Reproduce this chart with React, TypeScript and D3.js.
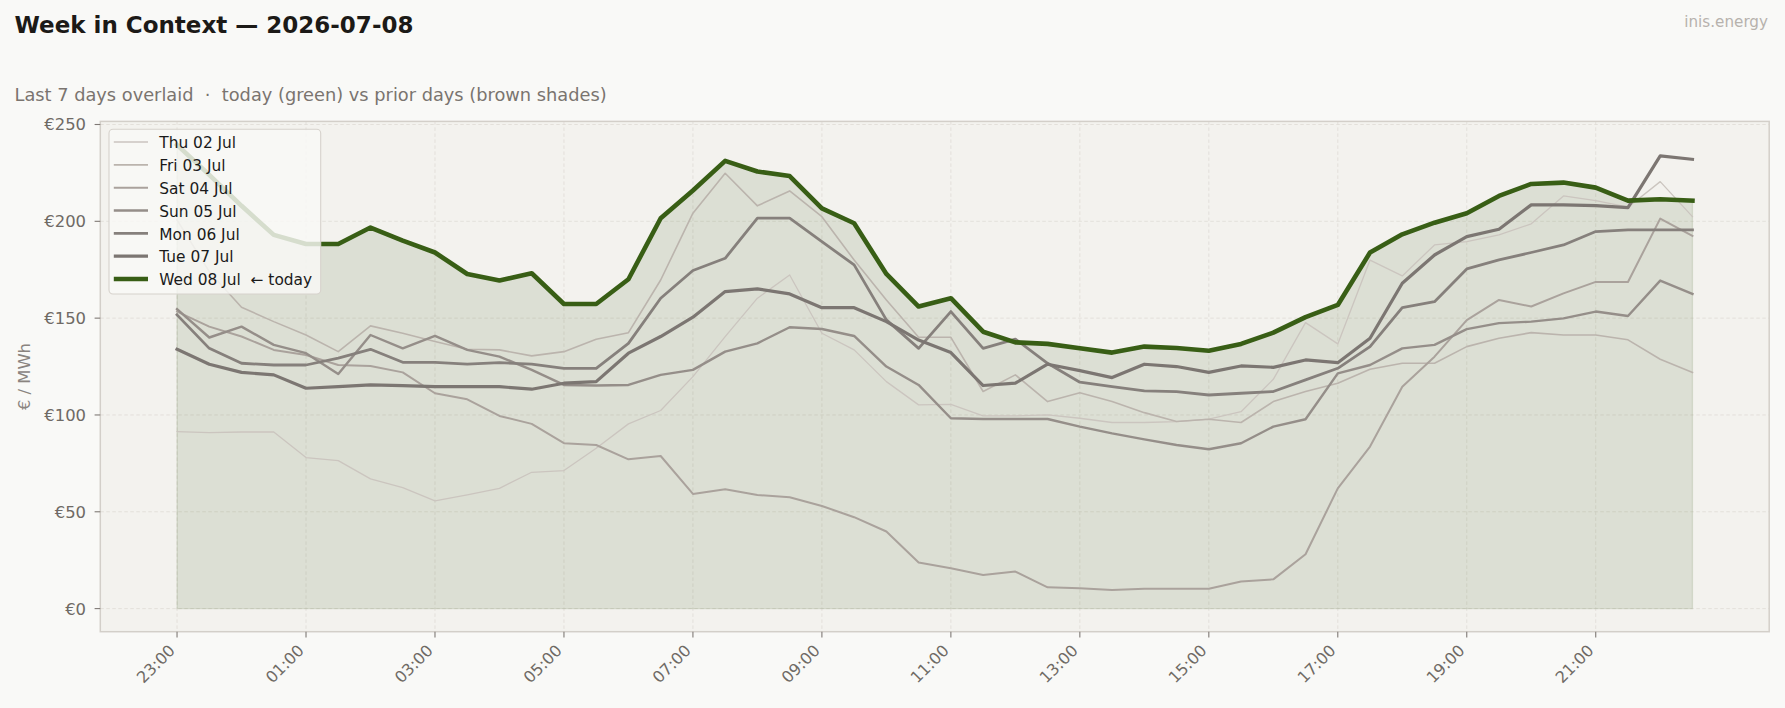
import React from "react";
import * as d3 from "d3";

const WIDTH = 1785;
const HEIGHT = 708;

// Half-hourly day-ahead prices (EUR/MWh), trading day 23:00 -> 22:30
const dayLabels = [
  "Thu 02 Jul",
  "Fri 03 Jul",
  "Sat 04 Jul",
  "Sun 05 Jul",
  "Mon 06 Jul",
  "Tue 07 Jul",
  "Wed 08 Jul",
];

const thu02 = [
  91.4, 90.9, 91.2, 91.2, 78, 76.4, 67, 62.5,
  55.6, 58.7, 62.1, 70.4, 71.3, 82.8, 95.4, 102.3,
  119.8, 140.5, 160.3, 172.3, 142.2, 133.6, 117.2, 105.2,
  105.5, 99.5, 99.5, 100, 98.3, 96.1, 96.1, 96.6,
  97.8, 101.7, 118.4, 147.7, 136.7, 180, 171.8, 187.8,
  189.5, 193, 198.7, 213.1, 210.7, 207.3, 220.5, 202.4,
];

const fri03 = [
  200.7, 174, 155.6, 148.2, 141.3, 132.7, 146, 142.2,
  137.9, 133.9, 133.6, 130.5, 132.7, 139.1, 142.5, 169.7,
  204.2, 224.8, 208, 215.7, 202.4, 180, 159.4, 140.1,
  140.1, 112.1, 120.7, 106.9, 111.5, 106.9, 101.2, 96.6,
  97.8, 96.1, 106.9, 112.1, 116.4, 123.6, 126.7, 126.7,
  135.3, 139.6, 142.5, 141.3, 141.3, 138.8, 128.8, 121.9,
];

const sat04 = [
  153.4, 145.6, 140.5, 133.6, 131, 125.8, 125.3, 122,
  111.2, 108.1, 99.5, 95.4, 85.4, 84.5, 77.1, 78.8,
  59.2, 61.6, 58.7, 57.5, 53, 47.2, 39.8, 23.8,
  20.8, 17.4, 19.1, 11, 10.5, 9.6, 10.2, 10.2,
  10.2, 14, 15.1, 28.1, 62.1, 83.7, 114.6, 130.1,
  149, 159.4, 156, 162.8, 168.7, 168.7, 201.4, 192.5,
];

const sun05 = [
  154.6, 140, 145.6, 136.2, 131.9, 121.2, 141.3, 134.4,
  140.8, 133.6, 130.1, 123.3, 115.5, 115.2, 115.5, 120.7,
  123.3, 132.7, 137, 145.3, 144.4, 140.8, 125, 115.5,
  98.3, 97.9, 97.9, 97.9, 94, 90.5, 87.4, 84.5,
  82.3, 85.4, 94, 97.8, 121.5, 125.8, 134.4, 136.2,
  144.3, 147.4, 148.2, 149.9, 153.4, 151.1, 169.4, 162.5,
];

const mon06 = [
  151.7, 134.4, 126.7, 125.8, 125.8, 129.3, 133.9, 127.2,
  127.2, 126.2, 127, 126.2, 124.1, 124.1, 137, 160.3,
  174.6, 180.9, 201.6, 201.6, 189.5, 177.5, 149.1, 134.4,
  153.4, 134.4, 139.2, 126.7, 116.9, 114.6, 112.4, 112.1,
  110.3, 111.2, 112.1, 118.1, 124.1, 135.3, 155.4, 158.5,
  175.4, 180.1, 183.9, 187.8, 194.7, 195.6, 195.6, 195.6,
];

const tue07 = [
  133.9, 126.2, 122, 120.7, 113.8, 114.6, 115.5, 115.1,
  114.6, 114.6, 114.6, 113.3, 116.4, 117.2, 131.9, 140.5,
  150.5, 163.7, 165.1, 162.5, 155.4, 155.4, 148.2, 138.7,
  132.2, 115.2, 116.4, 126.2, 122.9, 119.3, 126.2, 125,
  122, 125.3, 124.6, 128.4, 127, 139.6, 168, 182.6,
  192.1, 195.9, 208.5, 208.5, 208.1, 207.1, 233.8, 232,
];

const wed08 = [
  239.5, 224, 208, 193, 188.3, 188.3, 196.8, 190,
  183.9, 172.8, 169.4, 173.2, 157.3, 157.3, 170.1, 201.6,
  215.9, 231.2, 225.7, 223.4, 206.7, 199, 172.8, 156,
  160.3, 143, 137.5, 136.7, 134.4, 132.2, 135.3, 134.6,
  133.2, 136.7, 142.5, 150.5, 156.8, 183.9, 193.3, 199.3,
  204.2, 213.1, 219.3, 220, 217.4, 210.7, 211.4, 210.7,
];

const seriesValues = [thu02, fri03, sat04, sun05, mon06, tue07, wed08];

// x tick labels and the half-hour slot each one sits on
const xTickLabels = ["23:00", "01:00", "03:00", "05:00", "07:00", "09:00", "11:00", "13:00", "15:00", "17:00", "19:00", "21:00"];
const xTickSlots = [0, 4, 8, 12, 16, 20, 24, 28, 32, 36, 40, 44];
const yTickValues = [0, 50, 100, 150, 200, 250];

// Presentation
const FONT = "'DejaVu Sans', Verdana, sans-serif";
const PRIOR_COLORS = ["#cbc5bf", "#bbb4ad", "#aaa29c", "#958e89", "#86807c", "#7c7672"];
const PRIOR_WIDTHS = [1.3, 1.6, 2.0, 2.4, 2.8, 3.2];
const TODAY_COLOR = "#385e15";
const TODAY_WIDTH = 4.6;

const PLOT = { left: 100.3, right: 1769.2, top: 121.4, bottom: 631.7 };

export default function App() {
  const n = wed08.length;
  const x = d3.scaleLinear().domain([-2.38, n - 1 + 2.38]).range([PLOT.left, PLOT.right]);
  const y = d3.scaleLinear().domain([-11.93, 251.6]).range([PLOT.bottom, PLOT.top]);

  const line = d3
    .line<number>()
    .x((_, i) => x(i))
    .y((v) => y(v));

  const area = d3
    .area<number>()
    .x((_, i) => x(i))
    .y0(() => y(0))
    .y1((v) => y(v));

  const legendX = 109;
  const legendY = 129.3;
  const rowStep = 22.83;

  return (
    <svg
      width={WIDTH}
      height={HEIGHT}
      viewBox={`0 0 ${WIDTH} ${HEIGHT}`}
      style={{ position: "absolute", left: 0, top: 0, background: "#f9f9f7" }}
      fontFamily={FONT}
    >
      <rect x={0} y={0} width={WIDTH} height={HEIGHT} fill="#f9f9f7" />

      {/* header */}
      <text x={14.5} y={33} fontSize={23} fontWeight="bold" fill="#1c1a17">
        Week in Context — 2026-07-08
      </text>
      <text x={14.5} y={100.5} fontSize={17.8} fill="#7a746f" style={{ whiteSpace: "pre" }}>
        {"Last 7 days overlaid  ·  today (green) vs prior days (brown shades)"}
      </text>
      <text x={1768} y={27.3} fontSize={15.2} fill="#b7b2ad" textAnchor="end">
        inis.energy
      </text>

      {/* plot background */}
      <rect
        x={PLOT.left}
        y={PLOT.top}
        width={PLOT.right - PLOT.left}
        height={PLOT.bottom - PLOT.top}
        fill="#f3f2ee"
      />

      {/* grid */}
      <g stroke="#e1ded8" strokeWidth={0.9} strokeDasharray="3.5 2.5">
        {yTickValues.map((v) => (
          <line key={`gy${v}`} x1={PLOT.left} x2={PLOT.right} y1={y(v)} y2={y(v)} />
        ))}
        {xTickSlots.map((s) => (
          <line key={`gx${s}`} x1={x(s)} x2={x(s)} y1={PLOT.top} y2={PLOT.bottom} />
        ))}
      </g>

      {/* shaded band under today's curve */}
      <path
        d={area(wed08) ?? ""}
        fill={TODAY_COLOR}
        fillOpacity={0.12}
        stroke={TODAY_COLOR}
        strokeOpacity={0.12}
        strokeWidth={1.3}
      />

      {/* prior days */}
      {seriesValues.slice(0, 6).map((vals, k) => (
        <path
          key={dayLabels[k]}
          d={line(vals) ?? ""}
          fill="none"
          stroke={PRIOR_COLORS[k]}
          strokeWidth={PRIOR_WIDTHS[k]}
          strokeLinejoin="round"
          strokeLinecap="square"
        />
      ))}

      {/* today */}
      <path
        d={line(wed08) ?? ""}
        fill="none"
        stroke={TODAY_COLOR}
        strokeWidth={TODAY_WIDTH}
        strokeLinejoin="round"
        strokeLinecap="square"
      />

      {/* frame */}
      <rect
        x={PLOT.left}
        y={PLOT.top}
        width={PLOT.right - PLOT.left}
        height={PLOT.bottom - PLOT.top}
        fill="none"
        stroke="#d3cfc9"
        strokeWidth={1.5}
      />

      {/* y axis */}
      <g>
        {yTickValues.map((v) => (
          <g key={`yt${v}`}>
            <line x1={PLOT.left - 5.7} x2={PLOT.left} y1={y(v)} y2={y(v)} stroke="#7f7975" strokeWidth={1.1} />
            <text x={86} y={y(v)} dy="0.36em" textAnchor="end" fontSize={16.4} fill="#6f6a65">
              {`€${v}`}
            </text>
          </g>
        ))}
        <text
          transform={`translate(29.5, ${(PLOT.top + PLOT.bottom) / 2}) rotate(-90)`}
          textAnchor="middle"
          fontSize={16.4}
          fill="#8a847f"
        >
          € / MWh
        </text>
      </g>

      {/* x axis */}
      <g>
        {xTickSlots.map((s, k) => (
          <g key={`xt${s}`}>
            <line x1={x(s)} x2={x(s)} y1={PLOT.bottom} y2={PLOT.bottom + 5.7} stroke="#7f7975" strokeWidth={1.1} />
            <text
              transform={`translate(${x(s) - 1}, 651.5) rotate(-45)`}
              textAnchor="end"
              fontSize={16}
              fill="#6f6a65"
            >
              {xTickLabels[k]}
            </text>
          </g>
        ))}
      </g>

      {/* legend */}
      <g>
        <rect
          x={legendX}
          y={legendY}
          width={211.7}
          height={164.7}
          rx={4}
          fill="#f9f9f7"
          fillOpacity={0.82}
          stroke="#d6d2cc"
          strokeWidth={1.1}
        />
        {dayLabels.map((lab, k) => {
          const cy = 142 + k * rowStep;
          const isToday = k === dayLabels.length - 1;
          return (
            <g key={`lg${lab}`}>
              <line
                x1={113.8}
                x2={148}
                y1={cy}
                y2={cy}
                stroke={isToday ? TODAY_COLOR : PRIOR_COLORS[k]}
                strokeWidth={isToday ? TODAY_WIDTH : PRIOR_WIDTHS[k]}
              />
              <text x={159.3} y={cy + 6.2} fontSize={15.4} fill="#1a1a1a" style={{ whiteSpace: "pre" }}>
                {isToday ? `${lab}  ← today` : lab}
              </text>
            </g>
          );
        })}
      </g>
    </svg>
  );
}
